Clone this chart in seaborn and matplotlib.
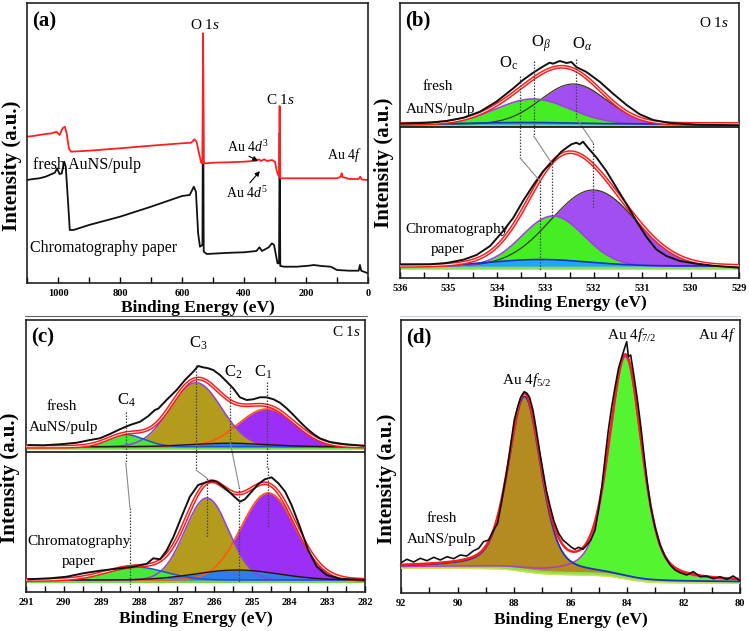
import numpy as np
import matplotlib
matplotlib.use("Agg")
import matplotlib.pyplot as plt
import seaborn as sns
from matplotlib.lines import Line2D

# ================= DATA =================
# (a) survey spectra (binding energy, intensity a.u.)
survey_fresh_E = [1100,1080,1060,1040,1020,1005,995,985,978,972,965,958,900,800,700,600,570,560,553,545,538,534,532,530,520,500,450,400,360,352,345,335,325,310,300,295,290,287,285,283,270,200,150,100,88,85,82,60,30,25,20,0]
survey_fresh_I = [146.3,147,148,149,149.7,151.3,148,154.7,156.3,149.7,134.7,131.3,132.3,134.7,137.3,139.7,140.3,143.7,141.3,129.7,120.3,119.7,249.7,119.7,119.7,120.3,120.7,121.3,122.3,123.7,122,123.7,122,123,121.3,113,108,107,177,104.7,104.7,104.7,104.7,104.7,106.3,109.7,106,104,104,106.3,103.5,103]
survey_paper_E = [1100,1080,1060,1040,1020,1010,1003,995,988,980,975,968,962,950,900,800,700,600,575,562,555,548,542,534,532,530,520,480,440,400,360,350,342,320,310,303,297,292,287,285,283,270,230,190,175,150,120,100,60,30,26,22,0]
survey_paper_I = [103,104,104.7,106.3,109,110.3,114.7,109,109.5,121.3,116.3,83,53,53,58,66.3,76.3,87,88,96.3,91.3,49.7,36.3,38,230,31.3,29,29.7,30.3,30.7,32,35.7,32,35.7,39.7,38,28,19.7,19.7,150,17,16.3,16.3,17.3,18,17,16.3,13,12.3,12.3,18,12.3,9.7]

# (b) O 1s measured spectra
O1s_fresh_E = [536.0,535.38,535.04,534.69,534.35,534.01,533.66,533.46,533.25,533.04,532.91,532.84,532.70,532.56,532.46,532.36,532.15,531.87,531.60,531.32,531.05,530.77,530.43,529.88,529.0]
O1s_fresh_I = [154.3,155.3,157,160.3,166.3,176.3,189.7,198,205.3,211.7,215.3,214.3,217,215,216,211,206,196,184.3,173,163.7,158,155,153.3,152.7]
O1s_paper_E = [536.0,535.38,535.04,534.69,534.42,534.14,533.87,533.66,533.46,533.25,533.04,532.84,532.67,532.56,532.46,532.36,532.29,532.22,532.12,531.94,531.74,531.53,531.32,531.12,530.91,530.71,530.50,530.22,529.88,529.54,529.0]
O1s_paper_I = [13.7,13.7,15,18.3,23,32,47,60.3,77,92.7,107,117,126.3,130.3,133.7,135.3,133.7,136.3,130.3,120.3,107,90.3,73.7,57,41,28.7,22,17,14.3,12.3,10.3]
# O 1s fitted components: [O_alpha, O_beta, O_c]
O1s_names = ["O$_\\alpha$", "O$_\\beta$", "O$_\\mathrm{c}$"]
O1s_fresh_center = [532.42, 533.25, 533.40]
O1s_fresh_height = [40, 25, 1.5]
O1s_fresh_sigma = [0.68, 0.76, 1.0]
O1s_fresh_base = 154
O1s_paper_center = [532.01, 532.84, 533.10]
O1s_paper_height = [76, 50, 6.5]
O1s_paper_sigma = [0.875, 0.64, 1.0]
O1s_paper_base = 12

# (c) C 1s measured spectra
C1s_fresh_E = [290.94,290.54,290.10,289.65,289.30,289.04,288.77,288.51,288.24,287.97,287.75,287.58,287.49,287.27,287.0,286.78,286.56,286.43,286.30,286.16,286.03,285.85,285.67,285.50,285.32,285.14,284.97,284.79,284.61,284.43,284.26,284.08,283.90,283.73,283.55,283.37,283.20,282.93,282.58,282.0]
C1s_fresh_I = [147,146.7,147.7,149.3,152,153.7,158,162.7,167,170.3,176,182,183.3,192,202,212,220.3,226,224.7,223.7,222,217,210.3,203.7,194.7,192,192.7,194.7,194.7,192.7,189.3,183.7,177,170.3,163.7,158,153.7,150,148,146]
C1s_paper_E = [290.94,290.36,289.92,289.48,289.04,288.59,288.15,287.80,287.62,287.44,287.27,287.09,286.87,286.65,286.43,286.25,286.07,285.94,285.76,285.58,285.45,285.32,285.19,285.01,284.83,284.66,284.48,284.30,284.12,283.95,283.73,283.51,283.28,283.02,282.67,282.0]
C1s_paper_I = [12.7,13.7,15.3,18.7,21.3,23.3,25.3,28,33.7,32.7,41.3,54.7,75.3,95.3,107,109.3,111.3,110.3,105.3,99.3,94.7,90.3,92.7,100.3,108,112.7,114.7,108.7,100.3,87,65.3,42,25.3,17,13.3,12]
# C 1s fitted components: [C1, C2, C3, C4]
C1s_fresh_center = [284.61, 285.6, 286.49, 288.35]
C1s_fresh_height = [37.7, 3.5, 64, 12]
C1s_fresh_sigma = [0.75, 1.0, 0.68, 0.5]
C1s_fresh_base = 145.3
C1s_paper_center = [284.57, 285.4, 286.2, 288.1]
C1s_paper_height = [87, 10, 82, 13]
C1s_paper_sigma = [0.72, 1.1, 0.58, 0.8]
C1s_paper_base = 12

# (d) Au 4f measured spectrum
Au_E = [92.0,91.79,91.55,91.32,91.08,90.84,90.61,90.37,90.14,89.90,89.67,89.43,89.25,89.08,88.90,88.72,88.58,88.46,88.35,88.23,88.11,87.99,87.87,87.76,87.64,87.54,87.45,87.33,87.21,87.10,86.98,86.86,86.72,86.58,86.42,86.27,86.13,85.99,85.85,85.71,85.56,85.42,85.28,85.13,85.01,84.89,84.77,84.66,84.54,84.42,84.30,84.18,84.07,84.01,83.95,83.87,83.75,83.63,83.51,83.39,83.28,83.16,83.01,82.83,82.65,82.47,82.30,82.12,81.89,81.65,81.41,81.18,80.94,80.71,80.47,80.24,80.0]
Au_I = [30.3,33.7,31,34.7,32.3,35.7,33,36.3,34.3,38,37,42.3,44.7,51.3,53,63,69.7,88,106.3,126.3,149.7,173,186.3,195.7,201.3,199.7,195.7,183,163,143,123,103,86.3,71.3,59.7,53,49.7,46.3,43.7,45.7,43.7,48,53,63,83,106.3,136.3,163,186.3,206.3,224.7,236.3,246.3,251.3,236.3,238,216.3,193,166.3,136.3,109.7,86.3,66.3,48,36.3,28,23,20.3,18,21.3,16.3,17,14.3,16.3,13.7,17,12.3]
# Au 4f components: [4f7/2, 4f5/2]
Au_center = [84.05, 87.62]
Au_height = [221, 174]
Au_hwhm = [0.68, 0.68]
Au_eta = 0.4
Au_bg_high = 26
Au_bg_low = 11

# ================= STYLE =================
sns.set_theme(style="white")
plt.rcParams["font.family"] = ["Liberation Serif", "DejaVu Serif"]
plt.rcParams["mathtext.fontset"] = "custom"
plt.rcParams["mathtext.rm"] = "Liberation Serif"
plt.rcParams["mathtext.it"] = "Liberation Serif:italic"
plt.rcParams["mathtext.bf"] = "Liberation Serif:bold"
for k in ["text.color", "axes.labelcolor", "xtick.color", "ytick.color"]:
    plt.rcParams[k] = "black"

W, H = 749, 631
fig = plt.figure(figsize=(W / 100, H / 100), dpi=100)


def add_ax(l, r, t, b):
    return fig.add_axes([l / W, 1 - b / H, (r - l) / W, (b - t) / H])


axA = add_ax(27, 368, 3, 283)
axB = add_ax(400, 739, 3, 278)
axC = add_ax(26, 365, 320, 592)
axD = add_ax(401, 740, 320, 593)


def style(ax, xlim, ylim, major, minor, ylab_x, tag, lpad):
    ax.set_xlim(*xlim)
    ax.set_ylim(*ylim)
    ax.set_xticks(major)
    ax.set_xticks(minor, minor=True)
    ax.set_xticklabels([str(m) for m in major])
    ax.set_yticks([])
    ax.tick_params(axis="x", which="both", direction="in", length=4, width=1,
                   pad=4.5, labelsize=7.5, top=False, bottom=True)
    for lab in ax.get_xticklabels():
        lab.set_fontweight("bold")
    for s in ax.spines.values():
        s.set_linewidth(1.2)
        s.set_color("#222222")
        s.set_visible(True)
    ax.set_xlabel("Binding Energy (eV)", fontsize=12.5, fontweight="bold", labelpad=lpad)
    ax.set_ylabel("Intensity (a.u.)", fontsize=15, fontweight="bold", va="center")
    ax.yaxis.set_label_coords(ylab_x, 0.42)
    ax.text(0.015, 0.935, tag, transform=ax.transAxes, fontsize=15,
            fontweight="bold", ha="left", va="center")


def gauss(x, c, h, s):
    return h * np.exp(-(x - c) ** 2 / (2 * s ** 2))


def pvoigt(x, c, h, w, eta):
    u = (x - c) / w
    return h * (eta / (1 + u ** 2) + (1 - eta) * np.exp(-np.log(2) * u ** 2))


def tube(ax, x, y):
    ax.plot(x, y, color="#ff1a1a", lw=2.8, zorder=6, solid_capstyle="round")
    ax.plot(x, y, color="white", lw=0.7, zorder=6.5, alpha=0.9)


def guide(ax, pts, dotted):
    xs = [p[0] for p in pts]
    ys = [p[1] for p in pts]
    for i in range(len(pts) - 1):
        if dotted[i]:
            ax.plot(xs[i:i + 2], ys[i:i + 2], color="#444444", lw=0.9,
                    ls=(0, (1.2, 1.2)), zorder=8)
        else:
            ax.plot(xs[i:i + 2], ys[i:i + 2], color="#8a8a8a", lw=0.8, zorder=8)


# ================= (a) =================
sns.lineplot(x=survey_paper_E, y=survey_paper_I, ax=axA, color="#111111", lw=1.3,
             sort=False, estimator=None)
sns.lineplot(x=survey_fresh_E, y=survey_fresh_I, ax=axA, color="#ff1f1f", lw=1.3,
             sort=False, estimator=None)
style(axA, (1100, 0), (0, 280), [1000, 800, 600, 400, 200, 0],
      [1100, 900, 700, 500, 300, 100], -0.045, "(a)", 1.0)
axA.text(527, 258, "O 1$s$", fontsize=11, ha="center", va="center")
axA.text(282, 183, "C 1$s$", fontsize=11, ha="center", va="center")
axA.text(387, 136, "Au 4$d^3$", fontsize=10, ha="center", va="center")
axA.text(390, 90, "Au 4$d^5$", fontsize=10, ha="center", va="center")
axA.text(77, 128, "Au 4$f$", fontsize=10, ha="center", va="center")
axA.annotate("", xy=(347, 121), xytext=(392, 128),
             arrowprops=dict(arrowstyle="-|>", color="black", lw=0.8, mutation_scale=7))
axA.annotate("", xy=(343, 114), xytext=(387, 98),
             arrowprops=dict(arrowstyle="-|>", color="black", lw=0.8, mutation_scale=7))
axA.text(1081, 118, "fresh AuNS/pulp", fontsize=11.5, ha="left", va="center")
axA.text(1090, 35, "Chromatography paper", fontsize=11.5, ha="left", va="center")

# ================= (b) =================
xb = np.linspace(529, 536, 700)
col_alpha, col_beta, col_c = "#a24ff2", "#45ee22", "#1ea8f0"
for base, cen, hei, sig in [
    (O1s_fresh_base, O1s_fresh_center, O1s_fresh_height, O1s_fresh_sigma),
    (O1s_paper_base, O1s_paper_center, O1s_paper_height, O1s_paper_sigma)]:
    comps = [gauss(xb, c, h, s) for c, h, s in zip(cen, hei, sig)]
    axB.fill_between(xb, base - 3.2, base, color="#86e055", lw=0, zorder=1)
    axB.fill_between(xb, base, base + comps[0], color=col_alpha, lw=0, zorder=2)
    axB.fill_between(xb, base, base + comps[1], color=col_beta, lw=0, zorder=3)
    axB.fill_between(xb, base, base + comps[2], color=col_c, lw=0, zorder=4)
    axB.plot(xb, base + comps[0], color="#3c3a1c", lw=0.9, zorder=5)
    axB.plot(xb, base + comps[1], color="#a040e0", lw=1.2, zorder=5)
    axB.plot(xb, base + comps[2], color="#1432c8", lw=1.2, zorder=5)
    tube(axB, xb, base + sum(comps))
sns.lineplot(x=O1s_fresh_E, y=O1s_fresh_I, ax=axB, color="#111111", lw=1.4,
             sort=False, estimator=None, zorder=7)
sns.lineplot(x=O1s_paper_E, y=O1s_paper_I, ax=axB, color="#111111", lw=1.4,
             sort=False, estimator=None, zorder=7)
axB.axhline(151, color="#111111", lw=1.2, zorder=9)
style(axB, (536, 529), (0, 275), [536, 535, 534, 533, 532, 531, 530, 529],
      list(np.arange(529.5, 536, 1.0)), -0.047, "(b)", 1.0)
guide(axB, [(533.52, 202), (533.52, 120), (533.11, 97), (533.11, 7)], [1, 0, 1])
guide(axB, [(533.24, 217), (533.24, 142), (532.87, 115), (532.87, 60)], [1, 0, 1])
guide(axB, [(532.36, 219), (532.36, 160), (532.01, 135), (532.01, 70)], [1, 0, 1])
axB.text(533.75, 215, O1s_names[2], fontsize=12, ha="center", va="center")
axB.text(533.08, 234, O1s_names[1], fontsize=12, ha="center", va="center")
axB.text(532.24, 234, O1s_names[0], fontsize=12, ha="center", va="center")
axB.text(529.2, 255, "O 1$s$", fontsize=11, ha="right", va="center")
axB.text(535.22, 192, "fresh", fontsize=11, ha="center", va="center")
axB.text(535.17, 169, "AuNS/pulp", fontsize=11, ha="center", va="center")
axB.text(534.83, 48, "Chromatography", fontsize=11, ha="center", va="center")
axB.text(535.02, 29, "paper", fontsize=11, ha="center", va="center")

# ================= (c) =================
xc = np.linspace(282, 291, 900)
for base, cen, hei, sig in [
    (C1s_fresh_base, C1s_fresh_center, C1s_fresh_height, C1s_fresh_sigma),
    (C1s_paper_base, C1s_paper_center, C1s_paper_height, C1s_paper_sigma)]:
    comps = [gauss(xc, c, h, s) for c, h, s in zip(cen, hei, sig)]
    axC.fill_between(xc, base - 2.5, base, color="#70dc45", lw=0, zorder=1)
    axC.fill_between(xc, base, base + comps[0], color="#9b2ff5", lw=0, zorder=2)
    axC.fill_between(xc, base, base + comps[2], color="#b39c1b", lw=0, zorder=3)
    axC.fill_between(xc, base, base + comps[3], color="#48e83a", lw=0, zorder=4)
    axC.fill_between(xc, base, base + comps[1], color="#2f7de6", lw=0, zorder=4.5)
    axC.plot(xc, base + comps[0], color="#ff5a14", lw=1.3, zorder=5)
    axC.plot(xc, base + comps[2], color="#9040e0", lw=1.1, zorder=5)
    axC.plot(xc, base + comps[3], color="#1e50e0", lw=1.1, zorder=5)
    axC.plot(xc, base + comps[1], color="#2a1010", lw=1.0, zorder=5)
    tube(axC, xc, base + sum(comps))
sns.lineplot(x=C1s_fresh_E, y=C1s_fresh_I, ax=axC, color="#111111", lw=1.4,
             sort=False, estimator=None, zorder=7)
sns.lineplot(x=C1s_paper_E, y=C1s_paper_I, ax=axC, color="#111111", lw=1.4,
             sort=False, estimator=None, zorder=7)
axC.axhline(140.3, color="#111111", lw=1.2, zorder=9)
style(axC, (291, 282), (0, 272), list(range(291, 281, -1)),
      list(np.arange(282.5, 291, 1.0)), -0.047, "(c)", 2.5)
guide(axC, [(288.35, 180), (288.35, 129), (288.24, 84), (288.24, 5)], [1, 0, 1])
guide(axC, [(286.49, 227), (286.49, 122), (286.2, 114), (286.2, 55)], [1, 0, 1])
guide(axC, [(285.58, 205), (285.58, 150), (285.34, 105), (285.34, 10)], [1, 0, 1])
guide(axC, [(284.61, 210), (284.61, 125), (284.57, 124), (284.57, 64)], [1, 0, 1])
axC.text(286.42, 249, "C$_3$", fontsize=12, ha="center", va="center")
axC.text(285.5, 220, "C$_2$", fontsize=12, ha="center", va="center")
axC.text(284.7, 220, "C$_1$", fontsize=12, ha="center", va="center")
axC.text(288.33, 192, "C$_4$", fontsize=12, ha="center", va="center")
axC.text(282.1, 260, "C 1$s$", fontsize=11, ha="right", va="center")
axC.text(290.04, 185, "fresh", fontsize=11, ha="center", va="center")
axC.text(289.99, 165, "AuNS/pulp", fontsize=11, ha="center", va="center")
axC.text(289.58, 50, "Chromatography", fontsize=11, ha="center", va="center")
axC.text(289.59, 30, "paper", fontsize=11, ha="center", va="center")

# ================= (d) =================
xd = np.linspace(80, 92, 1200)
p72 = pvoigt(xd, Au_center[0], Au_height[0], Au_hwhm[0], Au_eta)
p52 = pvoigt(xd, Au_center[1], Au_height[1], Au_hwhm[1], Au_eta)
tot = p72 + p52
cum = np.concatenate([[0], np.cumsum((tot[1:] + tot[:-1]) / 2 * np.diff(xd))])
bg = Au_bg_low + (Au_bg_high - Au_bg_low) * cum / cum[-1]
axD.fill_between(xd, bg, bg + p72, color="#55f430", lw=0, zorder=2)
axD.fill_between(xd, bg, bg + p52, color="#b38b20", lw=0, zorder=3)
axD.plot(xd, bg, color="#8fe04a", lw=2.6, zorder=4)
axD.plot(xd, bg - 1.2, color="#d8e060", lw=0.8, zorder=4)
axD.plot(xd, bg + p72, color="#b040c0", lw=1.2, zorder=5)
axD.plot(xd, bg + p52, color="#2030c0", lw=1.3, zorder=5)
axD.plot(xd, bg + tot, color="#ff1a1a", lw=1.8, zorder=6)
sns.lineplot(x=Au_E, y=Au_I, ax=axD, color="#111111", lw=1.2,
             sort=False, estimator=None, zorder=7)
style(axD, (92, 80), (0, 273), [92, 90, 88, 86, 84, 82, 80],
      [91, 89, 87, 85, 83, 81], -0.041, "(d)", 2.5)
axD.text(83.83, 258, "Au 4$f_{7/2}$", fontsize=11, ha="center", va="center")
axD.text(80.15, 258, "Au 4$f$", fontsize=11, ha="right", va="center")
axD.text(87.54, 213, "Au 4$f_{5/2}$", fontsize=11, ha="center", va="center")
axD.text(90.55, 75, "fresh", fontsize=11, ha="center", va="center")
axD.text(90.55, 53, "AuNS/pulp", fontsize=11, ha="center", va="center")

# separator lines under top panels
fig.add_artist(Line2D([25 / W, 367 / W], [1 - 316 / H, 1 - 316 / H],
                      transform=fig.transFigure, color="#606060", lw=0.8))
fig.add_artist(Line2D([400 / W, 740 / W], [1 - 316 / H, 1 - 316 / H],
                      transform=fig.transFigure, color="#c8d0d8", lw=0.8))

fig.savefig("out.png", dpi=100, facecolor="white")
